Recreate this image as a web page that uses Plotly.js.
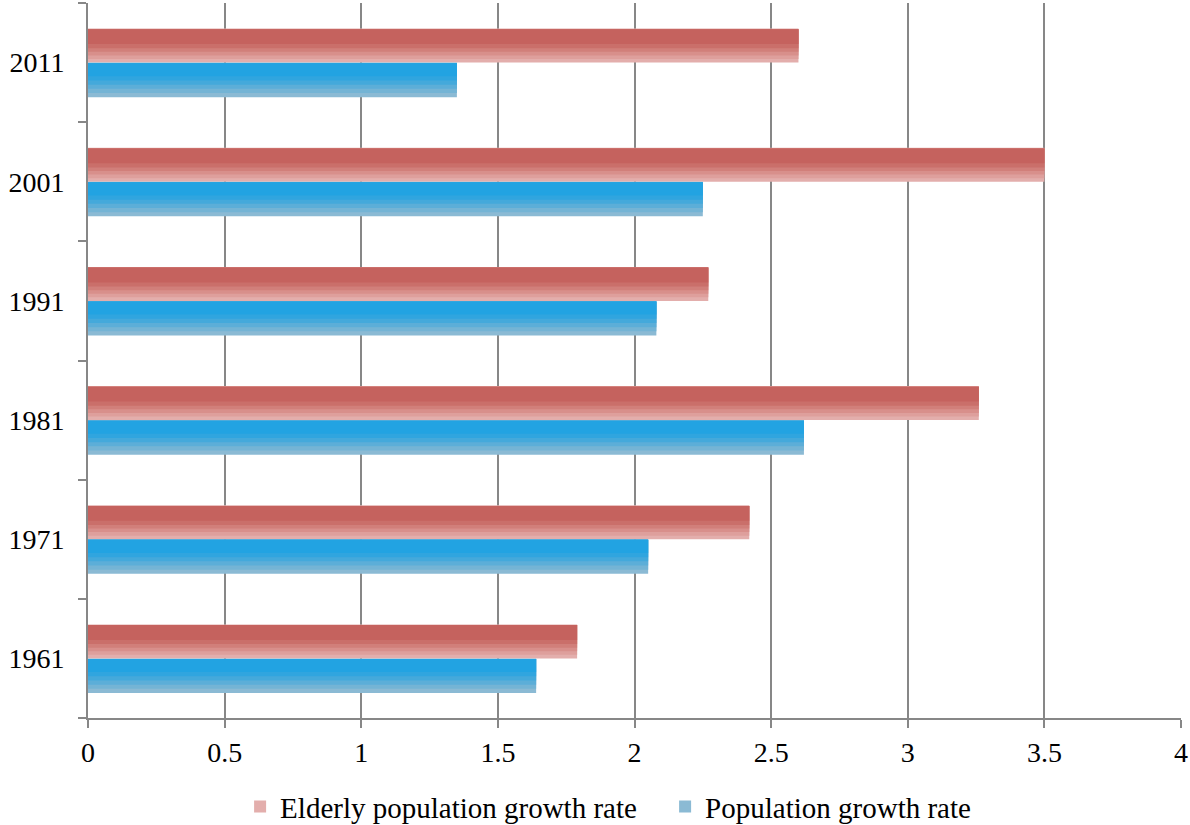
<!DOCTYPE html>
<html>
<head>
<meta charset="utf-8">
<script src="https://cdn.plot.ly/plotly-3.0.1.min.js"></script>
<style>html,body{margin:0;padding:0;background:#fff;}#chart{width:1190px;height:825px;}</style>
</head>
<body>
<div id="chart"></div>
<script>
const years = ['1961', '1971', '1981', '1991', '2001', '2011'];
const elderlyRate = [1.79, 2.42, 3.26, 2.27, 3.5, 2.6];
const populationRate = [1.64, 2.05, 2.62, 2.08, 2.25, 1.35];
const xTicks = [0, 0.5, 1, 1.5, 2, 2.5, 3, 3.5, 4];
const xTickLabels = ['0', '0.5', '1', '1.5', '2', '2.5', '3', '3.5', '4'];

const ELD = 'Elderly population growth rate';
const POP = 'Population growth rate';

function layer(name, x, color, lo, hi, legend) {
  return {
    type: 'bar', orientation: 'h', name: name, x: x, y: years,
    offset: lo, width: hi - lo, showlegend: legend,
    marker: {color: color, line: {width: 0}}, hoverinfo: 'x+name'
  };
}

// gradient simulated with nested layers (bottom band lightest)
const eldBands = [[0.0, '#e3aeac'], [0.03, '#de9f9c'], [0.06, '#d88f8b'], [0.09, '#d17f7a'], [0.12, '#ca6f6a'], [0.155, '#c5625e']];
const popBands = [[-0.29, '#8bbad4'], [-0.255, '#74b4d5'], [-0.22, '#5caed8'], [-0.185, '#44a9db'], [-0.15, '#30a5df'], [-0.115, '#22a3e2']];

const traces = [];
traces.push(layer(ELD, elderlyRate, eldBands[0][1], eldBands[0][0], 0.285, true));
traces.push(layer(POP, populationRate, popBands[0][1], popBands[0][0], 0, true));
for (let i = 1; i < eldBands.length; i++) traces.push(layer(ELD, elderlyRate, eldBands[i][1], eldBands[i][0], 0.28, false));
for (let i = 1; i < popBands.length; i++) traces.push(layer(POP, populationRate, popBands[i][1], popBands[i][0], -0.005, false));

const layout = {
  width: 1190, height: 825,
  margin: {l: 88, r: 9, t: 3, b: 107, autoexpand: false},
  paper_bgcolor: '#ffffff', plot_bgcolor: '#ffffff',
  barmode: 'overlay',
  font: {family: 'Liberation Serif, DejaVu Serif, serif', size: 28, color: '#000'},
  xaxis: {
    range: [0, 4], tickvals: xTicks, ticktext: xTickLabels,
    showgrid: true, gridcolor: '#878787', gridwidth: 2,
    showline: true, linecolor: '#878787', linewidth: 2,
    ticks: 'outside', ticklen: 8, tickwidth: 2, tickcolor: '#878787',
    ticklabelstandoff: 0,
    zeroline: false, fixedrange: true
  },
  yaxis: {
    type: 'category', categoryorder: 'array', categoryarray: years,
    range: [-0.5, 5.5],
    showgrid: false, showline: true, linecolor: '#878787', linewidth: 2,
    ticks: 'outside', tickson: 'boundaries', ticklen: 8, tickwidth: 2, tickcolor: '#878787',
    ticklabelstandoff: 16,
    zeroline: false, fixedrange: true
  },
  legend: {
    orientation: 'h', x: 0.528, xanchor: 'center', y: -0.124, yanchor: 'middle',
    font: {size: 29}, traceorder: 'normal', itemwidth: 30, entrywidth: 380
  }
};

Plotly.newPlot('chart', traces, layout, {displayModeBar: false, staticPlot: true});
</script>
</body>
</html>
